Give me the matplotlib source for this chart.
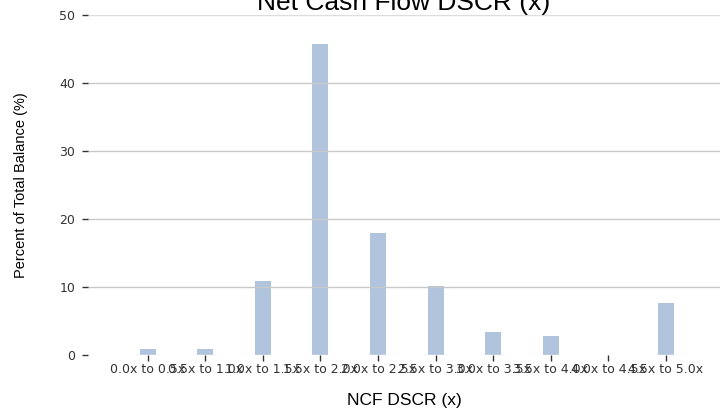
import matplotlib
matplotlib.use("Agg")
import matplotlib.pyplot as plt

categories = ["0.0x to 0.5x", "0.5x to 1.0x", "1.0x to 1.5x", "1.5x to 2.0x",
              "2.0x to 2.5x", "2.5x to 3.0x", "3.0x to 3.5x", "3.5x to 4.0x",
              "4.0x to 4.5x", "4.5x to 5.0x"]
pct_balance = [0.9, 0.9, 10.9, 45.7, 18.0, 10.1, 3.4, 2.8, 0.0, 7.6]
y_ticks = [0, 10, 20, 30, 40, 50]

fig = plt.figure(figsize=(7.2, 4.08), dpi=100)
ax = fig.add_axes([0.122, 0.13, 0.878, 0.833])

xs = list(range(len(categories)))
ax.bar(xs, pct_balance, width=0.28, color='#b0c4de', zorder=1)

ax.set_xlim(-1.04, 9.94)
ax.set_ylim(0, 50)
ax.set_yticks(y_ticks)
ax.set_xticks(xs)
ax.set_xticklabels(categories)

for s in ax.spines.values():
    s.set_visible(False)

ax.tick_params(axis='both', labelsize=9, colors='#333333', length=4, width=1)
ax.tick_params(axis='x', pad=2)
ax.tick_params(axis='y', pad=5)
for lab in ax.get_xticklabels() + ax.get_yticklabels():
    lab.set_family('DejaVu Sans')

# grid drawn over the bars, like the reference
ax.yaxis.grid(True, color='#c8c8c8', lw=1, zorder=2)
ax.set_axisbelow(False)
ax.yaxis.get_gridlines()[0].set_color('#f0f0f0')
ax.yaxis.get_gridlines()[-1].set_color('#dddddd')

ax.set_title("Net Cash Flow DSCR (x)", family='Liberation Sans', fontsize=19, pad=1)
ax.set_xlabel("NCF DSCR (x)", family='Liberation Sans', fontsize=12.5, labelpad=12)
ax.set_ylabel("Percent of Total Balance (%)", family='Liberation Sans', fontsize=10.5)
ax.yaxis.set_label_coords(-0.094, 0.5)

fig.savefig("out.png", dpi=100)
